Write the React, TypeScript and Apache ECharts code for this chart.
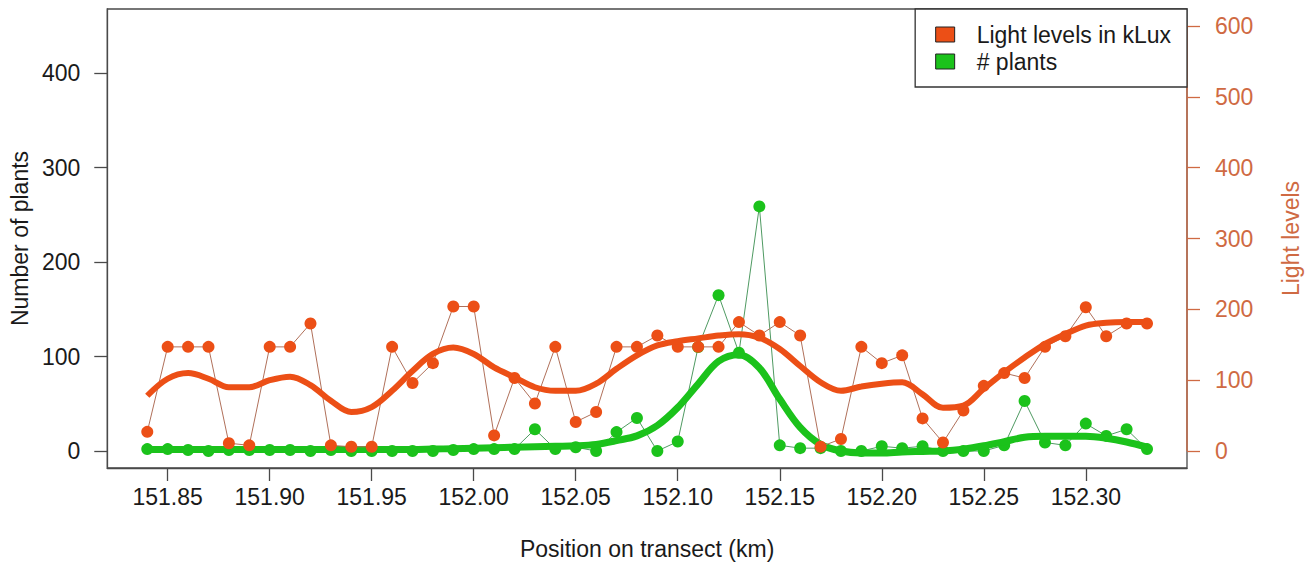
import React, { useEffect, useRef } from "react";
import * as echarts from "echarts";

const positions = [
  151.84, 151.85, 151.86, 151.87, 151.88, 151.89, 151.9, 151.91, 151.92, 151.93,
  151.94, 151.95, 151.96, 151.97, 151.98, 151.99, 152.0, 152.01, 152.02, 152.03,
  152.04, 152.05, 152.06, 152.07, 152.08, 152.09, 152.1, 152.11, 152.12, 152.13,
  152.14, 152.15, 152.16, 152.17, 152.18, 152.19, 152.2, 152.21, 152.22, 152.23,
  152.24, 152.25, 152.26, 152.27, 152.28, 152.29, 152.3, 152.31, 152.32, 152.33,
];

const lightLevels = [
  27, 147, 147, 147, 11, 8, 147, 147, 180, 8,
  6, 6, 147, 96, 124, 204, 204, 22, 103, 67,
  147, 41, 55, 147, 147, 163, 147, 147, 147, 182,
  163, 182, 163, 6, 17, 147, 124, 135, 46, 12,
  57, 92, 110, 103, 147, 162, 203, 162, 180, 180,
];

const plantCounts = [
  2, 2, 1, 0, 1, 1, 1, 1, 0, 1,
  0, 0, 0, 0, 0, 1, 2, 2, 2, 23,
  2, 4, 0, 20, 35, 0, 10, 110, 165, 104,
  259, 6, 3, 3, 0, 0, 5, 3, 5, 0,
  0, 0, 6, 53, 9, 6, 29, 16, 23, 2,
];

const lightSmooth = [
  78, 102, 110, 102, 90, 90, 100, 105, 93, 71,
  55, 62, 85, 113, 137, 146, 137, 118, 104, 90,
  85, 85, 95, 116, 135, 149, 155, 159, 163, 165,
  160, 144, 120, 97, 85, 91, 95, 97, 80, 61,
  64, 88, 111, 132, 151, 165, 177, 181, 182, 182,
];

const plantSmooth = [
  1.5, 1.5, 1.5, 1.5, 1.5, 1.5, 1.5, 1.5, 1.5, 1.5,
  1.5, 1.5, 1.5, 1.5, 2, 2.5, 3, 3.5, 4, 4.5,
  5, 5.5, 7, 11, 16, 27, 46, 71, 95, 102,
  88, 55, 25, 7, 0, -2, -2, -1, -0.5, 0,
  2, 5.5, 10, 14.5, 15.5, 15.5, 15.5, 13.5, 9.5, 4,
];

const xTicks = [151.85, 151.9, 151.95, 152.0, 152.05, 152.1, 152.15, 152.2, 152.25, 152.3];
const plantTicks = [0, 100, 200, 300, 400];
const lightTicks = [0, 100, 200, 300, 400, 500, 600];

const X_MIN = 151.8204;
const X_MAX = 152.3496;
const PLANT_MIN = -18;
const PLANT_MAX = 468;
const LIGHT_MIN = -24;
const LIGHT_MAX = 624;

const ORANGE = "#ec4f16";
const GREEN = "#1bc21b";
const AXIS_ORANGE = "#cf6a43";
const FONT = "'Liberation Sans', Arial, Helvetica, sans-serif";
const FS = 23;

export default function App() {
  const ref = useRef<HTMLDivElement>(null);

  useEffect(() => {
    if (!ref.current) return;
    const chart = echarts.init(ref.current, null, { renderer: "svg" });
    const lightPts = positions.map((x, i) => [x, lightLevels[i]]);
    const plantPts = positions.map((x, i) => [x, plantCounts[i]]);
    const lightSm = positions.map((x, i) => [x, lightSmooth[i]]);
    const plantSm = positions.map((x, i) => [x, plantSmooth[i]]);

    chart.setOption({
      animation: false,
      backgroundColor: "#ffffff",
      textStyle: { fontFamily: FONT },
      grid: {
        left: 105,
        top: 9,
        width: 1082,
        height: 459,
        show: true,
        borderColor: "#4a4a4a",
        borderWidth: 1.3,
        backgroundColor: "transparent",
      },
      legend: {
        right: 123,
        top: 9,
        orient: "vertical",
        backgroundColor: "#fff",
        borderColor: "#333",
        borderWidth: 1.3,
        padding: [12, 16, 12, 20],
        itemGap: 0,
        itemWidth: 19,
        itemHeight: 15,
        textStyle: {
          fontSize: FS,
          color: "#1a1a1a",
          fontFamily: FONT,
          lineHeight: 27,
          padding: [0, 0, 0, 17],
        },
        data: [
          { name: "Light levels in kLux", icon: "rect", itemStyle: { color: ORANGE, opacity: 1, borderColor: "#222", borderWidth: 1 } },
          { name: "# plants", icon: "rect", itemStyle: { color: GREEN, opacity: 1, borderColor: "#222", borderWidth: 1 } },
        ],
      },
      xAxis: {
        type: "value",
        min: X_MIN,
        max: X_MAX,
        splitLine: { show: false },
        axisLine: { show: true, onZero: false, lineStyle: { color: "#4a4a4a", width: 1.3 } },
        axisTick: { show: true, customValues: xTicks, length: 13, lineStyle: { color: "#4a4a4a", width: 1.3 } },
        axisLabel: {
          customValues: xTicks,
          fontSize: FS,
          color: "#1a1a1a",
          margin: 17,
          formatter: (v: number) => v.toFixed(2),
        },
        name: "Position on transect (km)",
        nameLocation: "middle",
        nameGap: 69,
        nameTextStyle: { fontSize: FS, color: "#1a1a1a" },
      },
      yAxis: [
        {
          type: "value",
          min: PLANT_MIN,
          max: PLANT_MAX,
          splitLine: { show: false },
          axisLine: { show: true, onZero: false, lineStyle: { color: "#4a4a4a", width: 1.3 } },
          axisTick: { show: true, customValues: plantTicks, length: 13, lineStyle: { color: "#4a4a4a", width: 1.3 } },
          axisLabel: { customValues: plantTicks, fontSize: FS, color: "#1a1a1a", margin: 27 },
          name: "Number of plants",
          nameLocation: "middle",
          nameRotate: 90,
          nameGap: 72,
          nameTextStyle: { fontSize: FS, color: "#1a1a1a" },
        },
        {
          type: "value",
          position: "right",
          min: LIGHT_MIN,
          max: LIGHT_MAX,
          splitLine: { show: false },
          axisLine: { show: false, onZero: false },
          axisTick: { show: true, customValues: lightTicks, length: 13, lineStyle: { color: AXIS_ORANGE, width: 1.3 } },
          axisLabel: { customValues: lightTicks, fontSize: FS, color: AXIS_ORANGE, margin: 28 },
          name: "Light levels",
          nameLocation: "middle",
          nameRotate: 90,
          nameGap: 92,
          nameTextStyle: { fontSize: FS, color: AXIS_ORANGE },
        },
      ],
      series: [
        {
          name: "rightAxisLine",
          type: "line",
          yAxisIndex: 1,
          data: [
            [X_MAX, lightTicks[0]],
            [X_MAX, lightTicks[lightTicks.length - 1]],
          ],
          showSymbol: false,
          clip: false,
          lineStyle: { color: AXIS_ORANGE, width: 1.3 },
          silent: true,
          z: 1,
        },
        {
          name: "plantsThin",
          type: "line",
          yAxisIndex: 0,
          data: plantPts,
          showSymbol: false,
          lineStyle: { color: "#4f9a62", width: 1 },
          z: 2,
        },
        {
          name: "# plants",
          type: "scatter",
          yAxisIndex: 0,
          data: plantPts,
          symbolSize: 12,
          itemStyle: { color: GREEN, opacity: 1 },
          z: 3,
        },
        {
          name: "plantsSmooth",
          type: "line",
          yAxisIndex: 0,
          data: plantSm,
          showSymbol: false,
          smooth: 0.35,
          lineStyle: { color: GREEN, width: 7 },
          z: 4,
        },
        {
          name: "lightThin",
          type: "line",
          yAxisIndex: 1,
          data: lightPts,
          showSymbol: false,
          lineStyle: { color: "#b0705a", width: 1 },
          z: 5,
        },
        {
          name: "Light levels in kLux",
          type: "scatter",
          yAxisIndex: 1,
          data: lightPts,
          symbolSize: 12,
          itemStyle: { color: ORANGE, opacity: 1 },
          z: 6,
        },
        {
          name: "lightSmooth",
          type: "line",
          yAxisIndex: 1,
          data: lightSm,
          showSymbol: false,
          smooth: 0.35,
          lineStyle: { color: ORANGE, width: 6 },
          z: 7,
        },
      ],
    });
    return () => chart.dispose();
  }, []);

  return (
    <div
      ref={ref}
      style={{ position: "fixed", left: 0, top: 0, width: 1310, height: 566, background: "#fff" }}
    />
  );
}
